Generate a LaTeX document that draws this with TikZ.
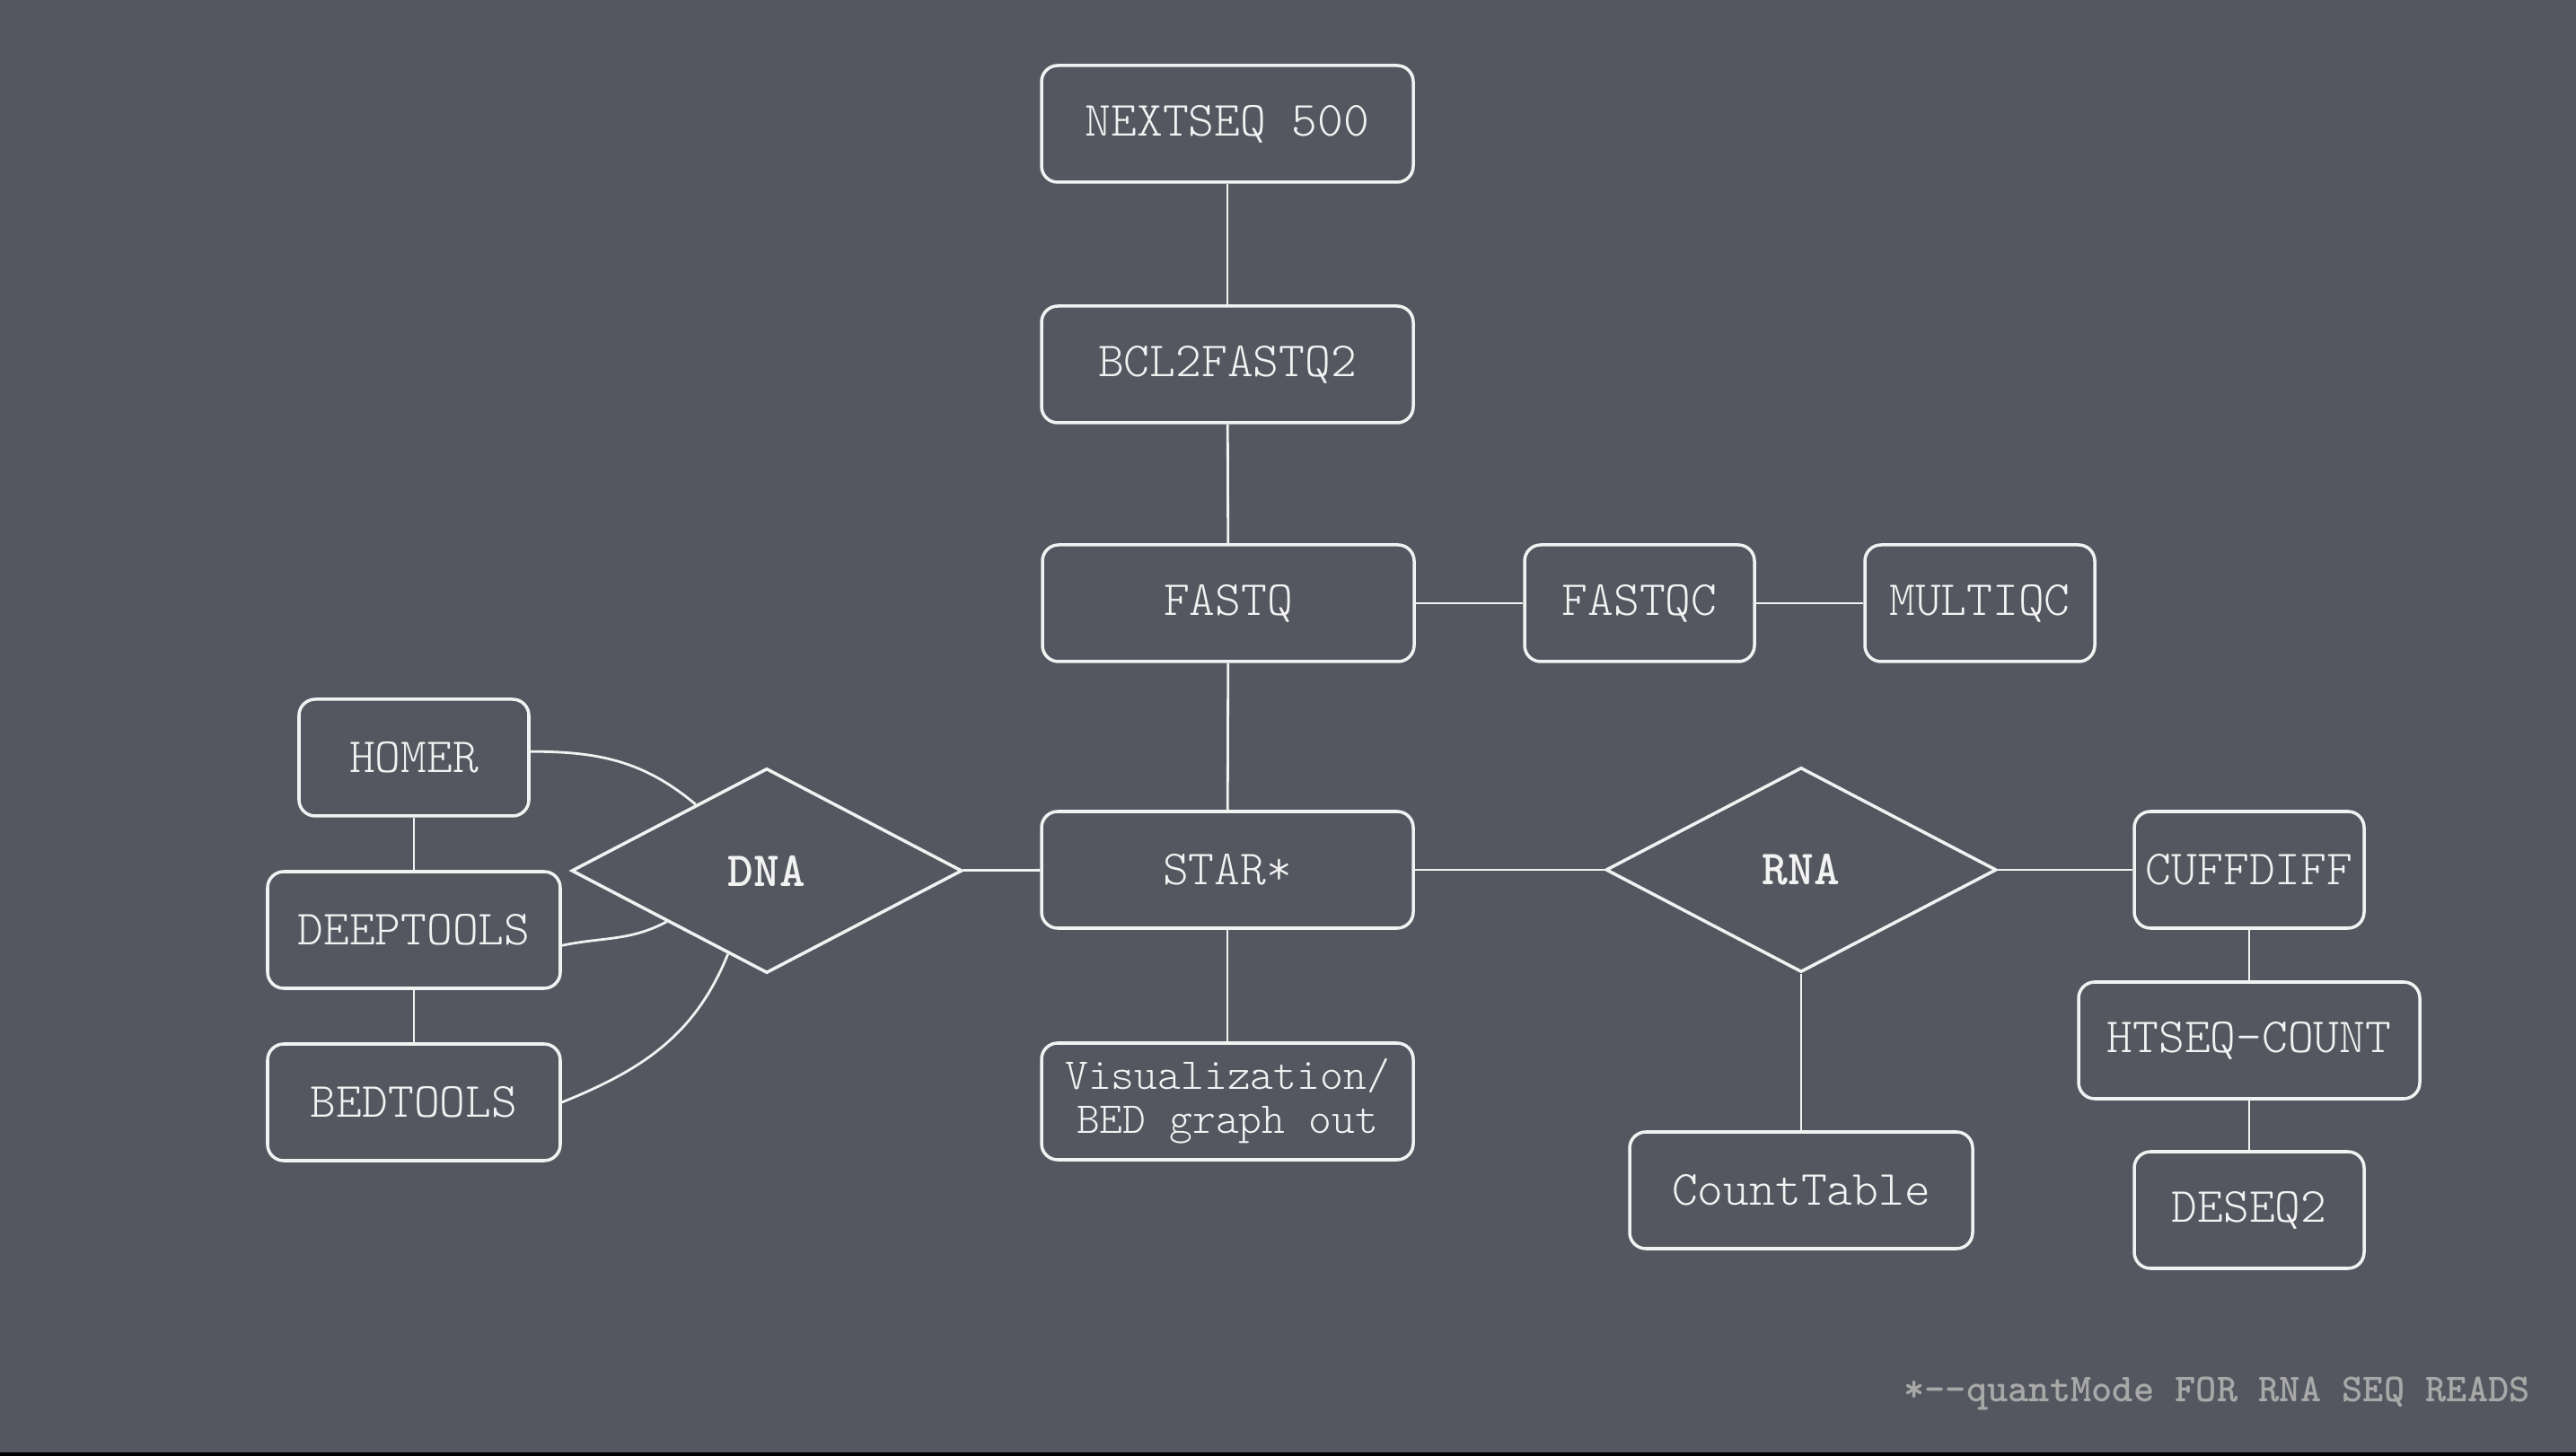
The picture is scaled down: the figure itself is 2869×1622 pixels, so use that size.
\documentclass[tikz,border=0pt]{standalone}
\usetikzlibrary{shapes.geometric}
\definecolor{bg}{HTML}{54575F}
\definecolor{fg}{HTML}{F2F2F2}
\definecolor{notegray}{HTML}{A8A8A8}
\tikzstyle{block}=[rectangle,
    rounded corners=1.8mm,
    line width=1pt,
    minimum height=13mm,
    minimum width=25.6mm,
    draw=fg,
    text=fg,
    font=\ttfamily\fontseries{l}\fontsize{15.6}{17}\selectfont]
\tikzstyle{decision}=[diamond,
    aspect=1.9,
    line width=1pt,
    inner sep=0pt,
    minimum width=43.5mm,
    minimum height=22.8mm,
    draw=fg,
    text=fg,
    font=\ttfamily\bfseries\fontsize{15.6}{17}\selectfont]
\tikzstyle{line}=[draw=fg, line width=0.8pt]
\begin{document}
\begin{tikzpicture}[x=0.1mm,y=-0.1mm]
                \useasboundingbox (0,0) rectangle (2869,1622);
                \fill[bg] (0,0) rectangle (2869,1622);
                \fill[black] (0,1618) rectangle (2869,1622);
                \node (nexts) [block,minimum width=41.4mm] at (1367,138) {NEXTSEQ 500};
                \node (bcl) [block,minimum width=41.4mm] at (1367,406) {BCL2FASTQ2};
                \node (fastq) [block,minimum width=41.4mm] at (1368,672) {FASTQ};
                \node (fastqc) [block] at (1826,672) {FASTQC};
                \node (multiqc) [block] at (2205,672) {MULTIQC};
                \node (star) [block,minimum width=41.4mm] at (1367,969) {STAR*};
                \node (vis) [block,minimum width=41.4mm,align=center,
                    font=\ttfamily\fontseries{l}\fontsize{14}{14}\selectfont] at (1367,1227)
                    {Visualization/\\BED graph out};
                \node (dna) [decision] at (854,970) {DNA};
                \node (homer) [block] at (461,844) {HOMER};
                \node (deep) [block,minimum width=32.6mm] at (461,1036) {DEEPTOOLS};
                \node (bed) [block,minimum width=32.6mm] at (461,1228) {BEDTOOLS};
                \node (rna) [decision] at (2006,969) {RNA};
                \node (count) [block,minimum width=38.2mm] at (2006,1326) {CountTable};
                \node (cuff) [block] at (2505,969) {CUFFDIFF};
                \node (htseq) [block,minimum width=38mm] at (2505,1159) {HTSEQ-COUNT};
                \node (deseq) [block] at (2505,1348) {DESEQ2};
                \node (note) [text=notegray,font=\ttfamily\bfseries\fontsize{12.6}{14}\selectfont]
                    at (2469,1552) {*-{}-quantMode FOR RNA SEQ READS};
                \draw [line] (nexts) -- (bcl);
                \draw [line] (bcl) -- (fastq);
                \draw [line] (fastq) -- (fastqc);
                \draw [line] (fastqc) -- (multiqc);
                \draw [line] (fastq) -- (star);
                \draw [line] (star) -- (vis);
                \draw [line] (dna) -- (star);
                \draw [line] (star) -- (rna);
                \draw [line] (rna) -- (cuff);
                \draw [line] (rna) -- (count);
                \draw [line] (cuff) -- (htseq);
                \draw [line] (htseq) -- (deseq);
                \draw [line] (homer) -- (deep);
                \draw [line] (deep) -- (bed);
                \draw [line] (homer.3) to[out=0,in=140] (dna.137);
                \draw [line] (deep.-6) to[out=12,in=208] (dna.207);
                \draw [line] (bed.east) to[out=22,in=-112] (dna.245);
            \end{tikzpicture}
\end{document}
